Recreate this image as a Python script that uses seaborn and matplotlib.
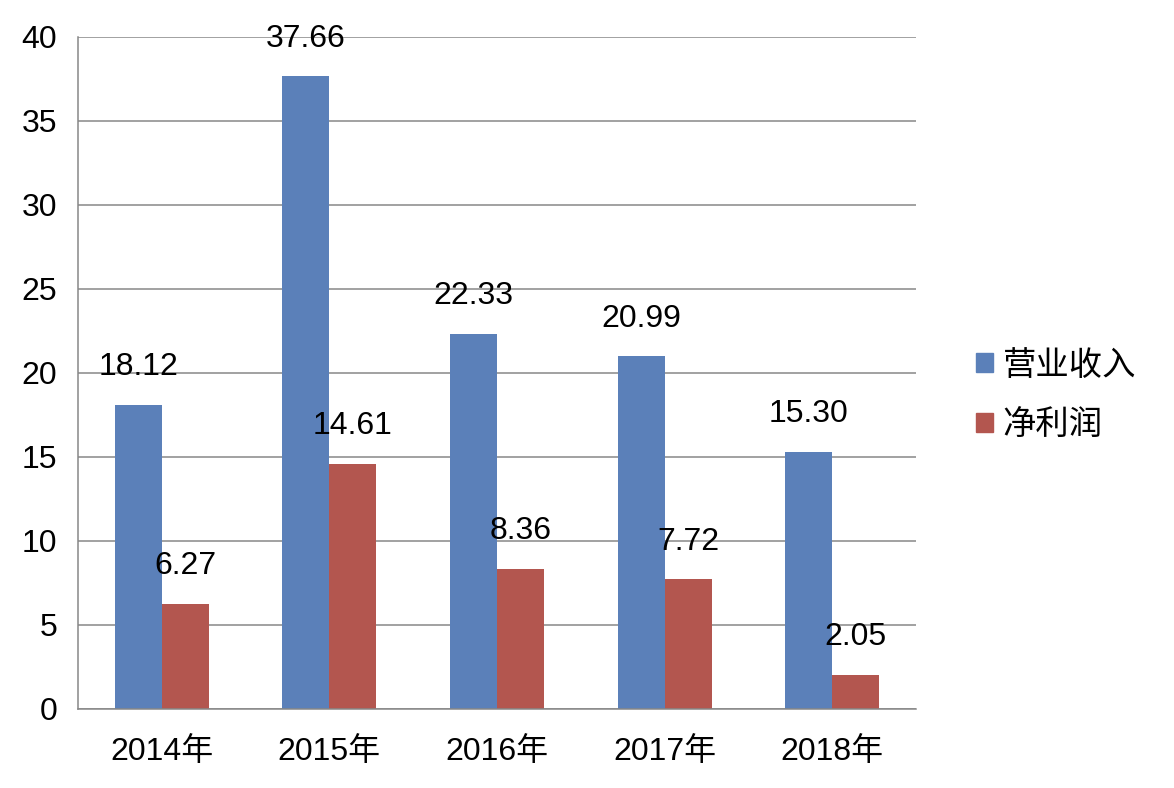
import pandas as pd
import numpy as np
from matplotlib import pyplot as plt
import seaborn as sns

years = ["2014年", "2015年", "2016年", "2017年", "2018年"]
revenue = [18.12, 37.66, 22.33, 20.99, 15.30]
profit = [6.27, 14.61, 8.36, 7.72, 2.05]
series_names = ["营业收入", "净利润"]
colors = ["#5B80B9", "#B3564F"]

df = pd.DataFrame({
    "year": years * 2,
    "value": revenue + profit,
    "series": [series_names[0]] * len(years) + [series_names[1]] * len(years),
})

sns.set_style("white")
plt.rcParams["font.family"] = ["Liberation Sans", "Noto Sans CJK SC", "DejaVu Sans"]
plt.rcParams["text.color"] = "black"
plt.rcParams["xtick.color"] = "black"
plt.rcParams["ytick.color"] = "black"

fig = plt.figure(figsize=(11.74, 7.88), dpi=100)
ax = fig.add_axes([78 / 1174, 1 - 709 / 788, (916 - 78) / 1174, (709 - 37) / 788])

sns.barplot(
    data=df, x="year", y="value", hue="series",
    palette=colors, width=0.56, dodge=True, ax=ax, legend=False,
    linewidth=0, saturation=1,
)

grid_color = "#878787"
ax.set_ylim(0, 40)
ax.set_xlim(-0.5, len(years) - 0.5)
ax.set_yticks(range(0, 41, 5))
ax.yaxis.grid(True, color=grid_color, linewidth=1.1)
ax.set_axisbelow(True)
ax.set_xlabel("")
ax.set_ylabel("")

for side in ["top", "right"]:
    ax.spines[side].set_visible(False)
for side in ["left", "bottom"]:
    ax.spines[side].set_color(grid_color)
    ax.spines[side].set_linewidth(1.1)

ax.tick_params(axis="y", length=5, width=1.1, color=grid_color, pad=10,
               labelsize=23, labelcolor="black")
ax.tick_params(axis="x", which="major", length=0, pad=20, labelsize=23,
               labelcolor="black")
ax.set_xticks(np.arange(-0.5, len(years), 1), minor=True)
ax.tick_params(axis="x", which="minor", length=5, width=1.1, color=grid_color)

# value labels sit well above each bar, like the original spreadsheet chart
for bar, val in zip(ax.patches, revenue + profit):
    ax.annotate(
        f"{val:.2f}",
        (bar.get_x() + bar.get_width() / 2, bar.get_height()),
        xytext=(0, 27),
        textcoords="offset points",
        ha="center",
        va="center",
        fontsize=23,
        color="black",
    )

handles = [plt.Rectangle((0, 0), 1, 1, color=c) for c in colors]
fig.legend(
    handles, series_names,
    loc="center left", bbox_to_anchor=(946 / 1174, 1 - 396 / 788),
    frameon=False, fontsize=24, handlelength=0.5, handleheight=0.5,
    handletextpad=0.3, labelspacing=0.85,
)

fig.savefig("out.png", dpi=100)
